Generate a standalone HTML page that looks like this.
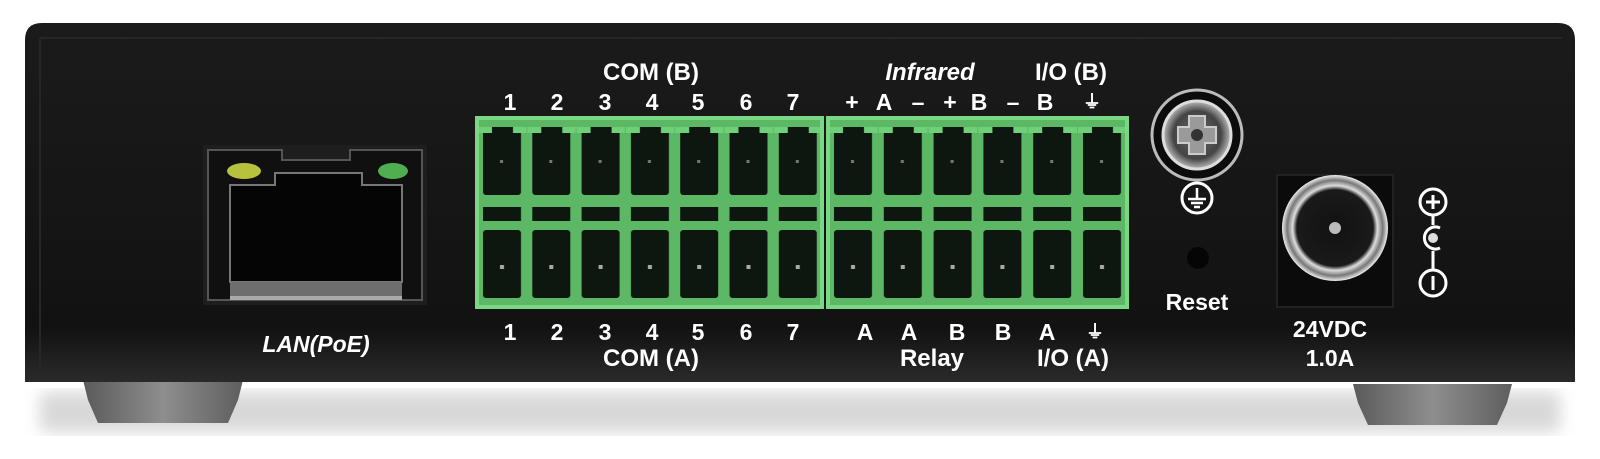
<!DOCTYPE html>
<html><head><meta charset="utf-8"><style>
html,body{margin:0;padding:0;background:#fff;width:1600px;height:459px;overflow:hidden}
svg{display:block}
text{font-family:"Liberation Sans",sans-serif;font-weight:bold;fill:#fff;text-anchor:middle}
</style></head><body>
<svg width="1600" height="459" viewBox="0 0 1600 459" xmlns="http://www.w3.org/2000/svg">
<defs>
<linearGradient id="body" x1="0" y1="0" x2="0" y2="1">
<stop offset="0" stop-color="#1b1b1b"/><stop offset="0.85" stop-color="#121212"/><stop offset="1" stop-color="#2a2a2a"/>
</linearGradient>
<linearGradient id="foot" x1="0" y1="0" x2="1" y2="0">
<stop offset="0" stop-color="#5a5a5a"/><stop offset="0.5" stop-color="#8e8e8e"/><stop offset="1" stop-color="#5e5e5e"/>
</linearGradient>
<filter id="blur"><feGaussianBlur stdDeviation="8"/></filter>
<radialGradient id="screw"><stop offset="0" stop-color="#6a6a6a"/><stop offset="0.7" stop-color="#444"/><stop offset="1" stop-color="#bbb"/></radialGradient>
<radialGradient id="jack"><stop offset="0" stop-color="#111"/><stop offset="0.72" stop-color="#1a1a1a"/><stop offset="0.8" stop-color="#ddd"/><stop offset="0.9" stop-color="#777"/><stop offset="1" stop-color="#eee"/></radialGradient>
<pattern id="pl" patternUnits="userSpaceOnUse" x="477" y="0" width="49.3" height="459">
<rect x="0" y="0" width="49.3" height="459" fill="#5cb865"/>
<rect x="6" y="127" width="38" height="68" rx="3" fill="#0d1710"/>
<rect x="6" y="207" width="38" height="14" fill="#0d1710"/>
<rect x="6" y="230" width="38" height="68" rx="3" fill="#0d1710"/>
<rect x="1" y="127" width="14" height="6" fill="#6fd07a"/><rect x="36" y="127" width="14" height="6" fill="#6fd07a"/>
<rect x="23" y="160" width="3" height="3" fill="#777"/><rect x="23" y="265" width="4" height="4" fill="#aaa"/>
</pattern>
<pattern id="pr" patternUnits="userSpaceOnUse" x="828" y="0" width="49.8" height="459">
<rect x="0" y="0" width="49.8" height="459" fill="#5cb865"/>
<rect x="6" y="127" width="38" height="68" rx="3" fill="#0d1710"/>
<rect x="6" y="207" width="38" height="14" fill="#0d1710"/>
<rect x="6" y="230" width="38" height="68" rx="3" fill="#0d1710"/>
<rect x="1" y="127" width="14" height="6" fill="#6fd07a"/><rect x="36" y="127" width="14" height="6" fill="#6fd07a"/>
<rect x="23" y="160" width="3" height="3" fill="#777"/><rect x="23" y="265" width="4" height="4" fill="#aaa"/>
</pattern>
</defs>

<rect x="40" y="392" width="1520" height="40" fill="#d8d8d8" filter="url(#blur)"/>
<path d="M83 380 L243 380 L238 400 L228 423 L98 423 L88 400 Z" fill="url(#foot)"/>
<path d="M1353 384 L1512 384 L1507 403 L1497 425 L1368 425 L1358 403 Z" fill="url(#foot)"/>
<path d="M25 40 Q25 23 42 23 L1558 23 Q1575 23 1575 40 L1575 382 L25 382 Z" fill="url(#body)"/>
<path d="M40 38 L1562 38 M40 38 L40 378" stroke="#262626" stroke-width="2" fill="none"/>

<rect x="203" y="145" width="224" height="160" fill="#1e1e1e"/>
<path d="M208 150 L282 150 L282 160 L350 160 L350 150 L422 150 L422 300 L208 300 Z" fill="#101010" stroke="#555" stroke-width="2"/>
<path d="M230 185 L275 185 L275 173 L362 173 L362 185 L402 185 L402 282 L230 282 Z" fill="#050505" stroke="#777" stroke-width="2"/>
<rect x="230" y="282" width="172" height="18" fill="#6e6e6e"/>
<rect x="230" y="296" width="172" height="4" fill="#aaa"/>
<ellipse cx="244" cy="171" rx="17" ry="8" fill="#b7c23c"/>
<ellipse cx="393" cy="171" rx="15" ry="8" fill="#4eae50"/>
<text x="316" y="352" font-size="23" font-style="italic">LAN(PoE)</text>

<rect x="477" y="118" width="345" height="189" fill="url(#pl)" stroke="#7ad884" stroke-width="4"/>
<rect x="828" y="118" width="299" height="189" fill="url(#pr)" stroke="#7ad884" stroke-width="4"/>

<text x="651" y="80" font-size="24">COM (B)</text>
<g font-size="23">
<text x="510" y="110">1</text><text x="557" y="110">2</text><text x="605" y="110">3</text><text x="652" y="110">4</text><text x="698" y="110">5</text><text x="746" y="110">6</text><text x="793" y="110">7</text>
<text x="852" y="110">+</text><text x="884" y="110">A</text><text x="918" y="110">–</text><text x="950" y="110">+</text><text x="979" y="110">B</text><text x="1013" y="110">–</text><text x="1045" y="110">B</text><text x="1092" y="108" font-size="18">⏚</text>
</g>
<text x="930" y="80" font-size="24" font-style="italic">Infrared</text>
<text x="1071" y="80" font-size="24">I/O (B)</text>

<g font-size="23">
<text x="510" y="340">1</text><text x="557" y="340">2</text><text x="605" y="340">3</text><text x="652" y="340">4</text><text x="698" y="340">5</text><text x="746" y="340">6</text><text x="793" y="340">7</text>
<text x="865" y="340">A</text><text x="909" y="340">A</text><text x="957" y="340">B</text><text x="1003" y="340">B</text><text x="1047" y="340">A</text><text x="1095" y="338" font-size="18">⏚</text>
</g>
<text x="651" y="366" font-size="24">COM (A)</text>
<text x="932" y="366" font-size="24">Relay</text>
<text x="1073" y="366" font-size="24">I/O (A)</text>

<circle cx="1197" cy="135" r="45" fill="#0c0c0c" stroke="#bbb" stroke-width="3"/>
<circle cx="1197" cy="135" r="34" fill="url(#screw)" stroke="#ddd" stroke-width="3"/>
<path d="M1189 116 L1205 116 L1205 127 L1216 127 L1216 143 L1205 143 L1205 154 L1189 154 L1189 143 L1178 143 L1178 127 L1189 127 Z" fill="#9a9a9a" stroke="#ccc" stroke-width="2"/>
<circle cx="1197" cy="135" r="6" fill="#333"/>
<circle cx="1197" cy="198" r="15" fill="none" stroke="#fff" stroke-width="3"/>
<path d="M1197 188 V199 M1188 199 H1206 M1191 203 H1203 M1194 207 H1200" stroke="#fff" stroke-width="2.5"/>
<circle cx="1198" cy="258" r="11" fill="#050505"/>
<text x="1197" y="310" font-size="23">Reset</text>

<rect x="1277" y="175" width="116" height="132" fill="#0b0b0b" stroke="#222" stroke-width="2"/>
<circle cx="1335" cy="228" r="53" fill="url(#jack)"/>
<circle cx="1335" cy="228" r="6" fill="#bbb"/>
<text x="1330" y="337" font-size="23">24VDC</text>
<text x="1330" y="366" font-size="23">1.0A</text>

<circle cx="1433" cy="202" r="13" fill="none" stroke="#fff" stroke-width="3"/>
<path d="M1426 202 H1440 M1433 195 V209" stroke="#fff" stroke-width="3"/>
<path d="M1433 215 V225 M1433 251 V270" stroke="#fff" stroke-width="3"/>
<path d="M1440 228 A 11 11 0 1 0 1440 248" fill="none" stroke="#fff" stroke-width="3"/>
<circle cx="1433" cy="238" r="5" fill="#ddd"/>
<circle cx="1433" cy="283" r="13" fill="none" stroke="#fff" stroke-width="3"/>
<path d="M1433 276 V290" stroke="#fff" stroke-width="3"/>
</svg>
</body></html>
